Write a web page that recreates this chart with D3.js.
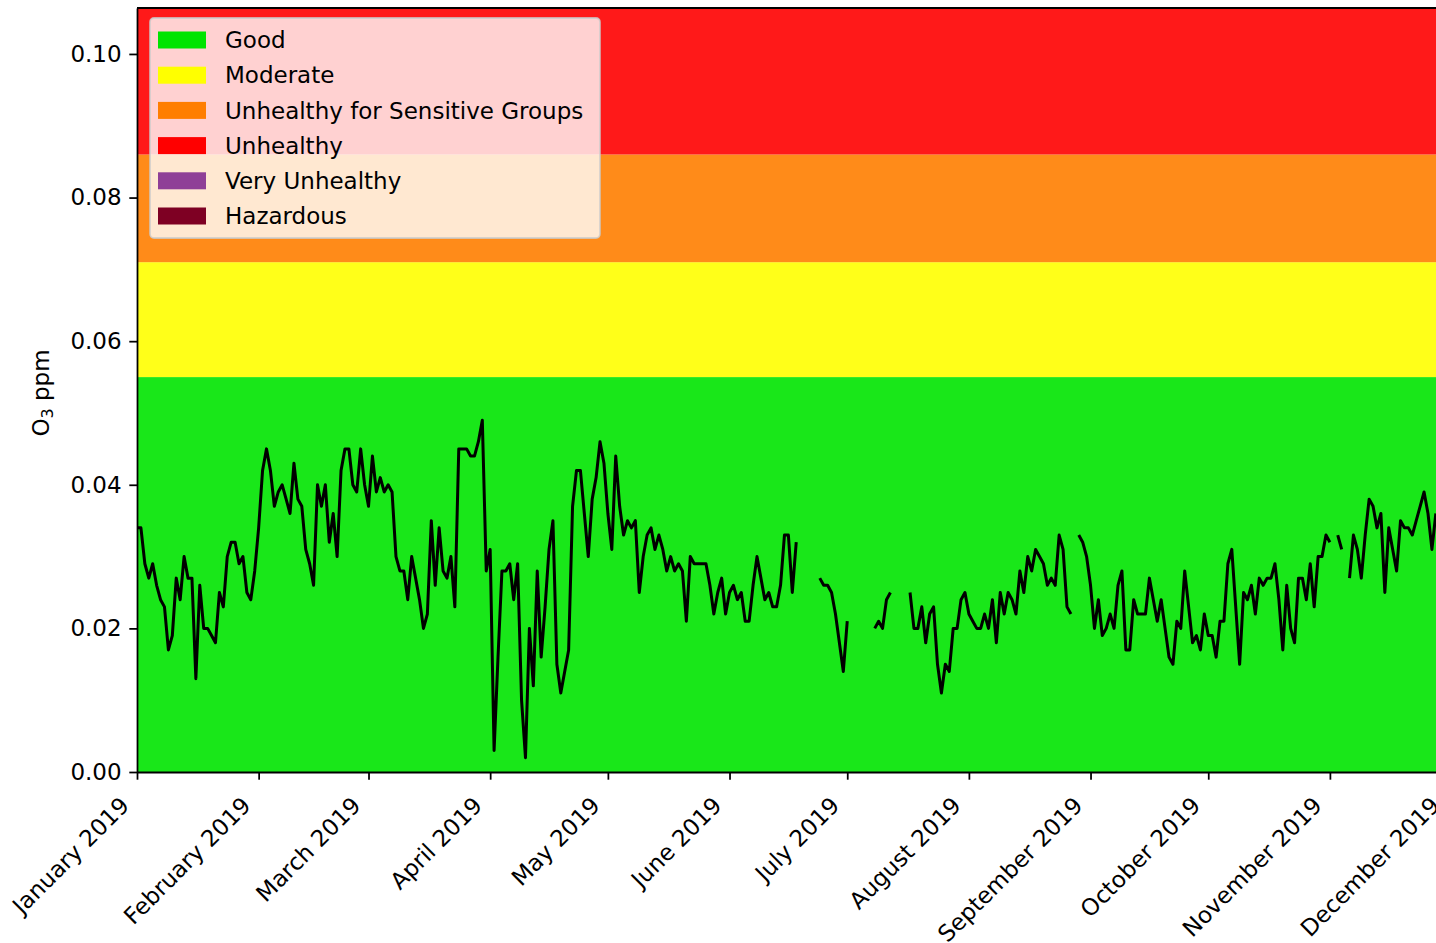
<!DOCTYPE html>
<html><head><meta charset="utf-8">
<script src="https://cdn.jsdelivr.net/npm/d3@7/dist/d3.min.js"></script>
<style>html,body{margin:0;padding:0;background:#fff;overflow:hidden}svg{display:block;font-family:"DejaVu Sans",sans-serif}</style>
</head><body><svg id="chart" width="1436" height="943"></svg>
<script>
// Daily O3 (ppm), 2019, one array per month (null = missing day)
const o3Jan = [0.034,0.034,0.029,0.027,0.029,0.026,0.024,0.023,0.017,0.019,0.027,0.024,0.030,0.027,0.027,0.013,0.026,0.020,0.020,0.019,0.018,0.025,0.023,0.030,0.032,0.032,0.029,0.030,0.025,0.024,0.028];
const o3Feb = [0.034,0.042,0.045,0.042,0.037,0.039,0.040,0.038,0.036,0.043,0.038,0.037,0.031,0.029,0.026,0.040,0.037,0.040,0.032,0.036,0.030,0.042,0.045,0.045,0.040,0.039,0.045,0.040];
const o3Mar = [0.037,0.044,0.039,0.041,0.039,0.040,0.039,0.030,0.028,0.028,0.024,0.030,0.027,0.024,0.020,0.022,0.035,0.026,0.034,0.028,0.027,0.030,0.023,0.045,0.045,0.045,0.044,0.044,0.046,0.049,0.028];
const o3Apr = [0.031,0.003,0.016,0.028,0.028,0.029,0.024,0.029,0.010,0.002,0.020,0.012,0.028,0.016,0.023,0.031,0.035,0.015,0.011,0.014,0.017,0.037,0.042,0.042,0.036,0.030,0.038,0.041,0.046,0.043];
const o3May = [0.036,0.031,0.044,0.037,0.033,0.035,0.034,0.035,0.025,0.030,0.033,0.034,0.031,0.033,0.031,0.028,0.030,0.028,0.029,0.028,0.021,0.030,0.029,0.029,0.029,0.029,0.026,0.022,0.025,0.027,0.022];
const o3Jun = [0.025,0.026,0.024,0.025,0.021,0.021,0.026,0.030,0.027,0.024,0.025,0.023,0.023,0.026,0.033,0.033,0.025,0.032,null,null,null,null,null,0.027,0.026,0.026,0.025,0.022,0.018,0.014];
const o3Jul = [0.021,null,null,null,null,null,null,0.020,0.021,0.020,0.024,0.025,null,null,null,null,0.025,0.020,0.020,0.023,0.018,0.022,0.023,0.015,0.011,0.015,0.014,0.020,0.020,0.024,0.025];
const o3Aug = [0.022,0.021,0.020,0.020,0.022,0.020,0.024,0.018,0.025,0.022,0.025,0.024,0.022,0.028,0.025,0.030,0.028,0.031,0.030,0.029,0.026,0.027,0.026,0.033,0.031,0.023,0.022,null,0.033,0.032,0.030];
const o3Sep = [0.026,0.020,0.024,0.019,0.020,0.022,0.020,0.026,0.028,0.017,0.017,0.024,0.022,0.022,0.022,0.027,0.024,0.021,0.024,0.020,0.016,0.015,0.021,0.020,0.028,0.023,0.018,0.019,0.017,0.022];
const o3Oct = [0.019,0.019,0.016,0.021,0.021,0.029,0.031,0.023,0.015,0.025,0.024,0.026,0.022,0.027,0.026,0.027,0.027,0.029,0.024,0.017,0.026,0.020,0.018,0.027,0.027,0.024,0.029,0.023,0.030,0.030,0.033];
const o3Nov = [0.032,null,0.033,0.031,null,0.027,0.033,0.031,0.027,0.033,0.038,0.037,0.034,0.036,0.025,0.034,0.031,0.028,0.035,0.034,0.034,0.033,0.035,0.037,0.039,0.036,0.031,0.036];

const monthLabels = ["January 2019","February 2019","March 2019","April 2019","May 2019","June 2019","July 2019","August 2019","September 2019","October 2019","November 2019","December 2019"];
const yTicks = [0.00, 0.02, 0.04, 0.06, 0.08, 0.10];
const yMax = 0.1064;

const aqiNames  = ["Good","Moderate","Unhealthy for Sensitive Groups","Unhealthy","Very Unhealthy","Hazardous"];
const aqiLower  = [0.000, 0.055, 0.071, 0.086, 0.106, 0.201];
const aqiUpper  = [0.055, 0.071, 0.086, 0.106, 0.201, 0.604];
const aqiColors = ["#00e400","#ffff00","#ff7e00","#ff0000","#8f3f97","#7e0023"];

// ---- layout
const L = 137, T = 8, B = 772, pxPerDay = 3.924;
const FS = 23;
const start = new Date(2019,0,1), end = new Date(2020,0,1);
const R = L + pxPerDay * 365;

const svg = d3.select("#chart");
const x = d3.scaleTime().domain([start, end]).range([L, R]);
const y = d3.scaleLinear().domain([0, yMax]).range([B, T]);

const values = [].concat(o3Jan,o3Feb,o3Mar,o3Apr,o3May,o3Jun,o3Jul,o3Aug,o3Sep,o3Oct,o3Nov);
const data = values.map((v,i)=>({date:new Date(2019,0,1+i), v}));

svg.append("defs").append("clipPath").attr("id","plotclip")
  .append("rect").attr("x",L).attr("y",T).attr("width",R-L).attr("height",B-T);

// bands visible inside the y-range (the top visible band fills to the top of the axes)
const visible = aqiNames.map((n,i)=>i).filter(i=>aqiLower[i] < yMax - 0.001);
const topVisible = visible[visible.length-1];
const plot = svg.append("g").attr("clip-path","url(#plotclip)");
plot.selectAll("rect.band").data(visible).enter().append("rect")
  .attr("class","band")
  .attr("x",L).attr("width",R-L)
  .attr("y",i=> i===topVisible ? T : y(aqiUpper[i]))
  .attr("height",i=> y(aqiLower[i]) - (i===topVisible ? T : y(aqiUpper[i])))
  .attr("fill",i=>aqiColors[i]).attr("fill-opacity",0.9);

const line = d3.line().defined(d=>d.v!=null).x(d=>x(d.date)).y(d=>y(d.v));
plot.append("path").datum(data).attr("d",line)
  .attr("fill","none").attr("stroke","#000").attr("stroke-width",3)
  .attr("stroke-linejoin","round").attr("stroke-linecap","butt");

// top spine
svg.append("line").attr("x1",L).attr("x2",R).attr("y1",T).attr("y2",T)
  .attr("stroke","#000").attr("stroke-width",1.76);

// axes
const monthStarts = d3.timeMonth.range(start, end);
const xAxis = d3.axisBottom(x).tickValues(monthStarts)
  .tickFormat((d,i)=>monthLabels[i]).tickSize(7.7).tickSizeOuter(0);
const gx = svg.append("g").attr("transform",`translate(0,${B})`).call(xAxis);
gx.selectAll("text").attr("y",0).attr("dy",null).attr("x",0)
  .attr("text-anchor","end")
  .attr("transform","translate(-7,35) rotate(-45)");

const yAxis = d3.axisLeft(y).tickValues(yTicks).tickFormat(d3.format(".2f"))
  .tickSize(7.7).tickPadding(7.7).tickSizeOuter(0);
const gy = svg.append("g").attr("transform",`translate(${L},0)`).call(yAxis);

[gx,gy].forEach(g=>{
  g.selectAll("text").attr("font-size",FS).attr("font-family","DejaVu Sans").attr("fill","#000");
  g.selectAll("line").attr("stroke","#000").attr("stroke-width",1.76);
  g.select(".domain").attr("stroke","#000").attr("stroke-width",1.76);
});

// y label
const yl = svg.append("text").attr("transform","translate(49,393) rotate(-90)")
  .attr("text-anchor","middle").attr("font-size",FS).attr("fill","#000");
yl.append("tspan").text("O");
yl.append("tspan").attr("font-size",16).attr("dy",4).text("3");
yl.append("tspan").attr("dy",-4).text(" ppm");

// legend
const lg = svg.append("g");
lg.append("rect").attr("x",150).attr("y",18).attr("width",450).attr("height",220)
  .attr("rx",4).attr("fill","#fff").attr("fill-opacity",0.8)
  .attr("stroke","#cccccc").attr("stroke-opacity",0.8).attr("stroke-width",1.76);
const rows = lg.selectAll("g.row").data(aqiNames).enter().append("g")
  .attr("transform",(d,i)=>`translate(0,${40 + i*35.2})`);
rows.append("rect").attr("x",158).attr("y",-8.5).attr("width",48).attr("height",17)
  .attr("fill",(d,i)=>aqiColors[i]);
rows.append("text").attr("x",225).attr("y",0).attr("dy","0.36em")
  .attr("font-size",FS).attr("fill","#000").text(d=>d);
</script></body></html>
